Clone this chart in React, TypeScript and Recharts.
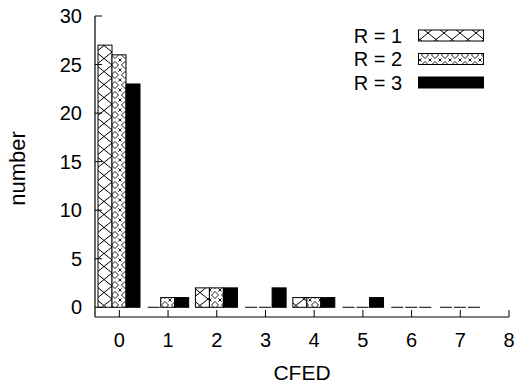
import { Bar, BarChart, Legend, XAxis, YAxis } from "recharts";

const cfed = [0, 1, 2, 3, 4, 5, 6, 7];
const r1 = [27, 0, 2, 0, 1, 0, 0, 0];
const r2 = [26, 1, 2, 0, 1, 0, 0, 0];
const r3 = [23, 1, 2, 2, 1, 1, 0, 0];

const xTicks = [0, 1, 2, 3, 4, 5, 6, 7, 8];
const yTicks = [0, 5, 10, 15, 20, 25, 30];

const SERIES = [
  { key: "r1", name: "R = 1", fill: "url(#hatch1)" },
  { key: "r2", name: "R = 2", fill: "url(#hatch2)" },
  { key: "r3", name: "R = 3", fill: "#000" },
];

const data = cfed.map((c, i) => ({ cfed: c, r1: r1[i], r2: r2[i], r3: r3[i] }));

const FONT = "'Liberation Sans', Arial, Helvetica, sans-serif";
const FS = 20;
const TICK = 7;

function Patterns({ suffix = "" }: { suffix?: string }) {
  return (
    <defs>
      <pattern id={`hatch1${suffix}`} patternUnits="userSpaceOnUse" width={16} height={13}>
        <rect width={16} height={13} fill="#fff" />
        <path d="M0 0 L16 13 M16 0 L0 13" stroke="#000" strokeWidth={1} />
      </pattern>
      <pattern id={`hatch2${suffix}`} patternUnits="userSpaceOnUse" width={10} height={10}>
        <rect width={10} height={10} fill="#fff" />
        {/* diamond in the middle, small x split over the corners */}
        <path
          d="M5 1.5 L8.5 5 L5 8.5 L1.5 5 Z M0 0 L1.6 1.6 M10 0 L8.4 1.6 M0 10 L1.6 8.4 M10 10 L8.4 8.4"
          stroke="#000"
          strokeWidth={0.9}
          fill="none"
        />
      </pattern>
    </defs>
  );
}

function BarShape(props: any) {
  const { x, y, width, height, fill } = props;
  if (!height || Math.abs(height) < 0.5) {
    return <line x1={x + 1} x2={x + width - 1} y1={y} y2={y} stroke="#000" strokeWidth={1} />;
  }
  return <rect x={x} y={y} width={width} height={height} fill={fill} stroke="#000" strokeWidth={1} />;
}

// key drawn gnuplot-style: label right-aligned, sample box to its right
function LegendBox() {
  const rowGap = 23.5;
  return (
    <svg width={200} height={90} style={{ display: "block", overflow: "visible" }}>
      <Patterns suffix="-lg" />
      {SERIES.map((s, i) => {
        const cy = 15.5 + i * rowGap;
        const fill = s.fill === "#000" ? "#000" : s.fill.replace(")", "-lg)");
        return (
          <g key={s.key}>
            <text x={102} y={cy + 7} textAnchor="end" fontSize={FS} fontFamily={FONT} fill="#000">
              {s.name}
            </text>
            <rect x={118.5} y={cy - 5.5} width={65} height={11} fill={fill} stroke="#000" />
          </g>
        );
      })}
    </svg>
  );
}

const tickStyle = { fill: "#000", fontSize: FS, fontFamily: FONT };

export default function App() {
  return (
    <div style={{ position: "absolute", left: 0, top: 0, background: "#fff" }}>
      <BarChart
        width={518}
        height={387}
        data={data}
        margin={{ top: 16, right: 9, bottom: 0, left: 0 }}
        barGap={0}
      >
        <Patterns />
        <XAxis
          dataKey="cfed"
          type="number"
          domain={[-0.5, 8]}
          ticks={xTicks}
          allowDataOverflow
          height={70}
          tickSize={-TICK}
          tickMargin={23}
          tick={tickStyle}
          axisLine={{ stroke: "#000", strokeWidth: 1.2 }}
          tickLine={{ stroke: "#000" }}
          label={{
            content: (p: any) => (
              <text
                x={p.viewBox.x + p.viewBox.width / 2}
                y={p.viewBox.y + 63}
                textAnchor="middle"
                fontSize={21}
                fontFamily={FONT}
                fill="#000"
              >
                CFED
              </text>
            ),
          }}
        />
        <XAxis
          xAxisId="top"
          dataKey="cfed"
          type="number"
          orientation="top"
          domain={[-0.5, 8]}
          ticks={xTicks}
          allowDataOverflow
          height={0}
          tickSize={-TICK}
          tickFormatter={() => ""}
          axisLine={{ stroke: "#000", strokeWidth: 1.2 }}
          tickLine={{ stroke: "#000" }}
        />
        <YAxis
          type="number"
          domain={[-1, 30]}
          ticks={yTicks}
          allowDataOverflow
          width={95}
          tickSize={-TICK}
          tickMargin={20}
          tick={tickStyle}
          axisLine={{ stroke: "#000", strokeWidth: 1.2 }}
          tickLine={{ stroke: "#000" }}
          label={{
            content: (p: any) => {
              const cy = p.viewBox.y + p.viewBox.height / 2 + 2;
              return (
                <text
                  x={17}
                  y={cy}
                  transform={`rotate(-90 17 ${cy})`}
                  textAnchor="middle"
                  dominantBaseline="central"
                  fontSize={22}
                  fontFamily={FONT}
                  fill="#000"
                >
                  number
                </text>
              );
            },
          }}
        />
        <YAxis
          yAxisId="right"
          orientation="right"
          type="number"
          domain={[-1, 30]}
          ticks={yTicks}
          allowDataOverflow
          width={0}
          tickSize={-TICK}
          tickFormatter={() => ""}
          axisLine={{ stroke: "#000", strokeWidth: 1.2 }}
          tickLine={{ stroke: "#000" }}
        />
        <Legend
          layout="horizontal"
          verticalAlign="middle"
          align="center"
          wrapperStyle={{ left: 300, top: 20, width: 200 }}
          content={() => <LegendBox />}
        />
        {SERIES.map((s) => (
          <Bar
            key={s.key}
            dataKey={s.key}
            name={s.name}
            fill={s.fill}
            barSize={14}
            shape={BarShape}
            isAnimationActive={false}
          />
        ))}
      </BarChart>
    </div>
  );
}
